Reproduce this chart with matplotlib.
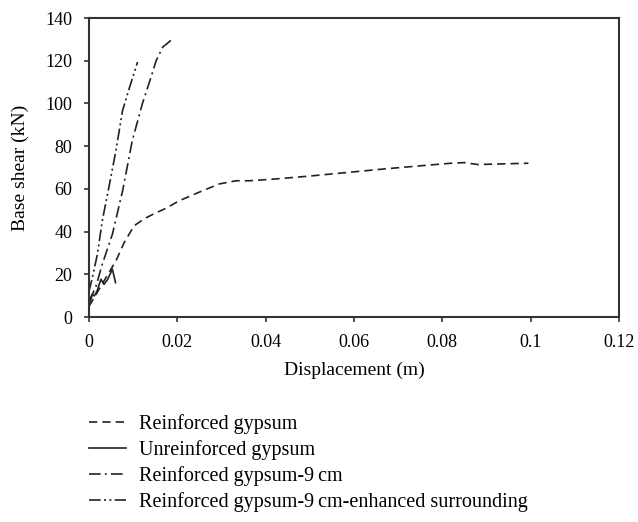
import matplotlib.pyplot as plt

plt.rcParams['font.family'] = ['Liberation Serif', 'DejaVu Serif']

# Reinforced gypsum
rg_x = [0, 0.002, 0.004, 0.0061, 0.008, 0.0102, 0.0125, 0.0144, 0.0175, 0.0205, 0.025, 0.0295,
        0.0333, 0.0364, 0.042, 0.05, 0.0667, 0.075, 0.082, 0.085, 0.088, 0.0995]
rg_y = [5, 12, 19, 26.3, 35, 42.7, 46, 48, 51, 54.5, 58.5, 62.3,
        63.8, 63.8, 64.6, 66, 69.3, 70.8, 72, 72.3, 71.4, 72]

# Unreinforced gypsum
ur_x = [0, 0.0004, 0.00076, 0.0012, 0.0018, 0.0027, 0.0034, 0.0042, 0.0053, 0.006]
ur_y = [6, 8, 10.6, 9.9, 12, 17.7, 15.3, 17.5, 22.4, 16.1]

# Reinforced gypsum-9cm
r9_x = [0, 0.0015, 0.003, 0.0053, 0.0076, 0.0098, 0.0121, 0.014, 0.0152, 0.0167, 0.0186]
r9_y = [7.5, 13.8, 24.7, 38.8, 59, 82.6, 100, 112, 120, 126.4, 129.6]

# Reinforced gypsum-9cm-enhanced surrounding
re_x = [0, 0.00076, 0.0019, 0.003, 0.0045, 0.0061, 0.0076, 0.0091, 0.011]
re_y = [12, 18.4, 29.4, 45, 60.7, 78, 96.7, 107, 119.4]

fig = plt.figure(figsize=(6.38, 5.22), dpi=100)
ax = fig.add_axes([0.1395, 0.3927, 0.8307, 0.5728])

c = '#222222'
ax.plot(rg_x, rg_y, color=c, lw=1.2, dashes=(5, 3), label='Reinforced gypsum')
ax.plot(ur_x, ur_y, color=c, lw=1.2, label='Unreinforced gypsum')
ax.plot(r9_x, r9_y, color=c, lw=1.2, dashes=(7, 2.5, 1.2, 2.5), label='Reinforced gypsum-9\u2009cm')
ax.plot(re_x, re_y, color=c, lw=1.2, dashes=(7, 2, 1.2, 2, 1.2, 2),
        label='Reinforced gypsum-9\u2009cm-enhanced surrounding')

ax.set_xlim(0, 0.12)
ax.set_ylim(0, 140)
ax.set_xticks([0, 0.02, 0.04, 0.06, 0.08, 0.1, 0.12])
ax.set_xticklabels(['0', '0.02', '0.04', '0.06', '0.08', '0.1', '0.12'])
ax.set_yticks(range(0, 141, 20))
ax.tick_params(labelsize=13, direction='out', length=3.5, width=1.2, color='#333333', pad=8.5)
for s in ax.spines.values():
    s.set_linewidth(1.5)
    s.set_color('#333333')
ax.set_xlabel('Displacement (m)', fontsize=14, labelpad=8)
ax.set_ylabel('Base shear (kN)', fontsize=14, labelpad=12)

h, l = ax.get_legend_handles_labels()
fig.legend(h, l, loc='upper left', bbox_to_anchor=(0.1395, 0.207), frameon=False,
           fontsize=14.5, handlelength=1.85, labelspacing=0.3, handletextpad=0.65,
           borderaxespad=0, borderpad=0)

fig.savefig('out.png', dpi=100)
